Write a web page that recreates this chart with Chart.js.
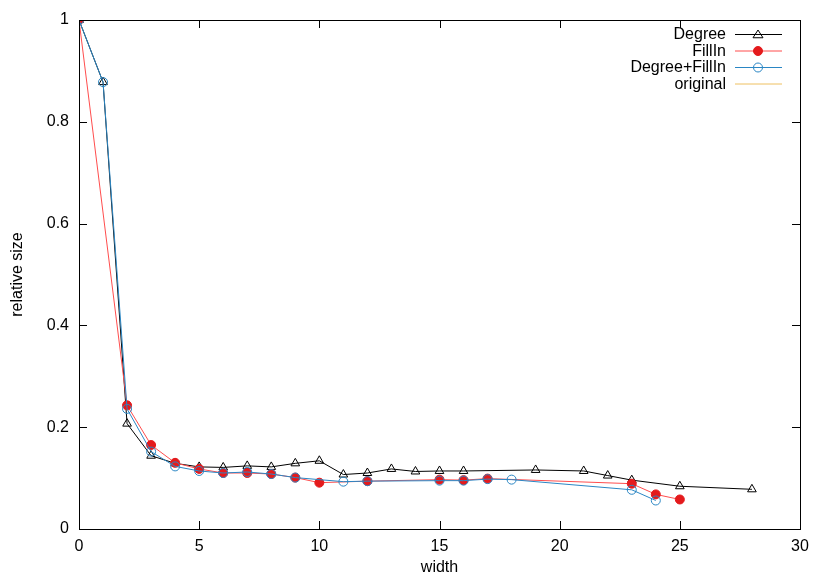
<!DOCTYPE html>
<html>
<head>
<meta charset="utf-8">
<script src="https://cdn.jsdelivr.net/npm/chart.js@4/dist/chart.umd.min.js"></script>
<style>
html, body { margin: 0; padding: 0; background: #ffffff; }
#box { width: 830px; height: 581px; }
</style>
</head>
<body>
<div id="box"><canvas id="chart"></canvas></div>
<script>
// ----------------------------------------------------------------------
const degree_x = [0, 1, 2, 3, 4, 5, 6, 7, 8, 9, 10, 11, 12, 13, 14, 15, 16, 19, 21, 22, 23, 25, 28]
const degree_y = [1, 0.878, 0.207, 0.144, 0.129, 0.122, 0.121, 0.124, 0.122, 0.129, 0.134,
	0.107, 0.110, 0.118, 0.113, 0.114, 0.114, 0.116, 0.114, 0.105, 0.096, 0.084, 0.078]

const fillin_x = [0, 2, 3, 4, 5, 6, 7, 8, 9, 10, 12, 15, 16, 17, 23, 24, 25]
const fillin_y = [1, 0.243, 0.165, 0.130, 0.118, 0.110, 0.110, 0.108, 0.101, 0.091,
	0.094, 0.097, 0.096, 0.099, 0.089, 0.068, 0.058]

const both_x = [0, 1, 2, 3, 4, 5, 6, 7, 8, 9, 11, 12, 15, 16, 17, 18, 23, 24]
const both_y = [1, 0.878, 0.236, 0.152, 0.123, 0.114, 0.110, 0.112, 0.108, 0.101,
	0.093, 0.094, 0.095, 0.095, 0.098, 0.097, 0.077, 0.056]

const original_x = []
const original_y = []

const x_ticks = [0, 5, 10, 15, 20, 25, 30]
const y_ticks = [0, 0.2, 0.4, 0.6, 0.8, 1]

const FONT = "'Liberation Sans', Arial, sans-serif"

// ----------------------------------------------------------------------
function pairs (xs, ys)
{
	var out = []
	for (var it = 0; it < xs.length; it++)
		{
		out.push({x: xs[it], y: ys[it]})
		}
	return out
}

// box, inward ticks and key in gnuplot style
const gnuplot_frame = {
	id: 'gnuplot_frame',
	afterDraw (chart)
	{
		const ctx = chart.ctx
		const area = chart.chartArea
		const xs = chart.scales.x
		const ys = chart.scales.y
		ctx.save()
		ctx.strokeStyle = '#000000'
		ctx.lineWidth = 1
		ctx.beginPath()
		for (const t of x_ticks)
			{
			const px = Math.round(xs.getPixelForValue(t)) + 0.5
			ctx.moveTo(px, area.bottom)
			ctx.lineTo(px, area.bottom - 8)
			ctx.moveTo(px, area.top)
			ctx.lineTo(px, area.top + 8)
			}
		for (const t of y_ticks)
			{
			const py = Math.round(ys.getPixelForValue(t)) + 0.5
			ctx.moveTo(area.left, py)
			ctx.lineTo(area.left + 8, py)
			ctx.moveTo(area.right, py)
			ctx.lineTo(area.right - 8, py)
			}
		ctx.stroke()
		ctx.strokeRect(Math.round(area.left) + 0.5, Math.round(area.top) + 0.5,
			Math.round(area.right - area.left), Math.round(area.bottom - area.top))

		// key
		ctx.font = '16px ' + FONT
		ctx.textAlign = 'right'
		ctx.textBaseline = 'middle'
		var row = 34
		for (const ds of chart.data.datasets)
			{
			ctx.fillStyle = '#000000'
			ctx.fillText(ds.label, 726, row + 1)
			ctx.strokeStyle = ds.borderColor
			ctx.lineWidth = 1
			ctx.beginPath()
			ctx.moveTo(735, row + 0.5)
			ctx.lineTo(782, row + 0.5)
			ctx.stroke()
			if (ds.pointRadius > 0)
				{
				const r = ds.pointRadius
				ctx.fillStyle = ds.pointBackgroundColor
				ctx.strokeStyle = ds.pointBorderColor
				ctx.beginPath()
				if (ds.pointStyle === 'triangle')
					{
					ctx.moveTo(758, row - r + 1)
					ctx.lineTo(758 + r, row + r * 0.75)
					ctx.lineTo(758 - r, row + r * 0.75)
					ctx.closePath()
					}
				else
					{
					ctx.arc(758, row + 0.5, r, 0, Math.PI * 2)
					}
				ctx.fill()
				ctx.stroke()
				}
			row += 16.5
			}
		ctx.restore()
	}
}

// ----------------------------------------------------------------------
const graph_data = {
	datasets: [
		{label: 'Degree',
		data: pairs(degree_x, degree_y),
		borderColor: '#000000',
		borderWidth: 1,
		pointStyle: 'triangle',
		pointRadius: 5,
		pointBorderColor: '#000000',
		pointBackgroundColor: 'rgba(0,0,0,0)',
		pointBorderWidth: 1,
		order: 3
		},
		{label: 'FillIn',
		data: pairs(fillin_x, fillin_y),
		borderColor: '#ff4d4d',
		borderWidth: 1,
		pointStyle: 'circle',
		pointRadius: 4.5,
		pointBorderColor: '#e41a1c',
		pointBackgroundColor: '#e41a1c',
		pointBorderWidth: 1,
		order: 2
		},
		{label: 'Degree+FillIn',
		data: pairs(both_x, both_y),
		borderColor: '#2a86c4',
		borderWidth: 1,
		pointStyle: 'circle',
		pointRadius: 4.5,
		pointBorderColor: '#2a86c4',
		pointBackgroundColor: 'rgba(0,0,0,0)',
		pointBorderWidth: 1,
		order: 1
		},
		{label: 'original',
		data: pairs(original_x, original_y),
		borderColor: '#eec060',
		borderWidth: 1,
		pointRadius: 0,
		order: 0
		}
	]
}

const config = {
	type: 'line',
	data: graph_data,
	plugins: [gnuplot_frame],
	options: {
		responsive: false,
		animation: false,
		layout: {padding: {left: 0, right: 30, top: 20, bottom: 0}},
		plugins: {
			legend: {display: false},
			tooltip: {enabled: false}
			},
		elements: {line: {tension: 0}},
		scales: {
			x: {
				type: 'linear',
				min: 0, max: 30,
				afterFit: function (scale) { scale.height = 52 },
				afterBuildTicks: function (scale) { scale.ticks = x_ticks.map(v => ({value: v})) },
				grid: {display: false, drawTicks: false},
				border: {display: false},
				ticks: {color: '#000000', padding: 8, maxRotation: 0, font: {family: FONT, size: 16}},
				title: {display: true, text: 'width', color: '#000000',
					padding: {top: 0, bottom: 4}, font: {family: FONT, size: 16}}
				},
			y: {
				type: 'linear',
				min: 0, max: 1,
				afterFit: function (scale) { scale.width = 79 },
				afterBuildTicks: function (scale) { scale.ticks = y_ticks.map(v => ({value: v})) },
				grid: {display: false, drawTicks: false},
				border: {display: false},
				ticks: {color: '#000000', padding: 10, font: {family: FONT, size: 16},
					callback: function (v) { return String(Number(v.toFixed(2))) }},
				title: {display: true, text: 'relative size', color: '#000000',
					padding: {top: 8, bottom: 0}, font: {family: FONT, size: 16}}
				}
			}
		}
	}

const canvas = document.getElementById('chart')
canvas.width = 830
canvas.height = 581
const chart = new Chart(canvas, config)
</script>
</body>
</html>
